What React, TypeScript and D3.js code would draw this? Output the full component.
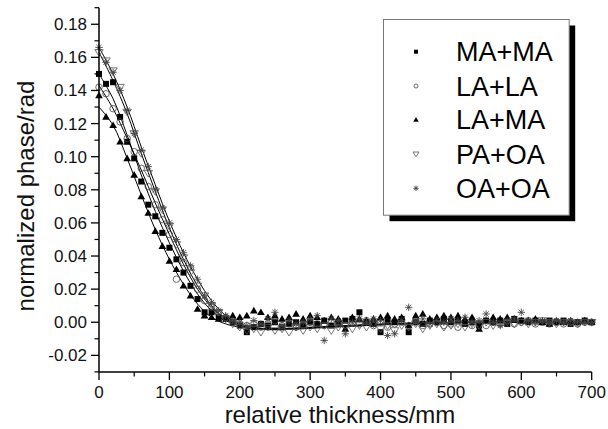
import React from "react";
import * as d3 from "d3";

const thickness = [0,10,20,30,40,50,60,70,80,90,100,110,120,130,140,150,160,170,180,190,200,210,220,230,240,250,260,270,280,290,300,310,320,330,340,350,360,370,380,390,400,410,420,430,440,450,460,470,480,490,500,510,520,530,540,550,560,570,580,590,600,610,620,630,640,650,660,670,680,690,700];

const maMa = [0.150,0.144,0.145,0.124,0.109,0.099,0.085,0.071,0.064,0.054,0.045,0.038,0.030,0.022,0.014,0.006,0.006,0.003,0.002,0.000,-0.002,-0.006,-0.003,-0.001,-0.002,0.000,-0.003,-0.001,0.000,-0.002,0.000,-0.001,0.001,-0.002,0.000,0.001,0.002,0.006,0.000,-0.001,-0.006,0.001,0.000,0.002,-0.006,0.000,-0.001,0.001,0.000,0.002,0.000,0.001,-0.001,0.000,-0.002,0.001,0.000,0.001,-0.001,0.002,0.001,0.000,0.001,0.000,0.001,0.000,0.001,-0.001,0.000,0.001,0.000];
const laLa = [0.142,0.138,0.129,0.121,0.111,0.103,0.093,0.082,0.071,0.062,0.053,0.026,0.036,0.033,0.020,0.013,0.009,0.006,0.003,0.001,-0.001,-0.002,-0.001,-0.003,-0.001,0.001,-0.002,-0.001,-0.003,-0.002,0.000,-0.001,-0.002,0.000,-0.001,-0.002,0.000,-0.001,0.001,-0.002,0.000,-0.003,-0.001,0.000,-0.002,0.001,-0.002,-0.001,0.000,-0.002,-0.001,-0.003,0.000,-0.002,-0.001,-0.002,0.000,-0.001,0.001,-0.001,0.000,0.001,-0.001,0.000,-0.001,0.000,-0.001,0.000,-0.001,0.000,0.000];
const laMa = [0.137,0.124,0.119,0.109,0.099,0.089,0.076,0.066,0.055,0.046,0.037,0.032,0.022,0.016,0.008,0.004,0.003,0.002,0.003,0.004,0.003,0.004,0.007,0.006,0.003,0.004,0.002,0.003,0.005,0.002,0.004,0.003,0.001,0.003,0.002,-0.004,0.003,0.002,0.001,0.002,0.003,0.004,0.002,0.003,-0.002,0.004,0.005,0.002,0.003,0.004,0.003,0.004,0.002,0.003,-0.004,0.001,0.003,0.002,0.003,0.002,0.001,0.001,0.002,0.000,-0.001,0.001,0.000,0.001,0.000,0.001,0.000];
const paOa = [0.163,0.158,0.152,0.142,0.127,0.114,0.102,0.090,0.079,0.068,0.058,0.047,0.039,0.030,0.022,0.016,0.010,0.006,0.002,-0.001,-0.003,-0.005,-0.004,-0.006,-0.003,-0.005,-0.004,-0.006,-0.003,-0.005,-0.003,-0.004,-0.002,-0.005,-0.003,-0.002,-0.004,-0.002,-0.003,-0.001,-0.004,-0.002,-0.005,-0.002,-0.003,-0.001,-0.004,-0.002,-0.001,-0.003,-0.002,-0.001,-0.003,-0.001,-0.002,0.000,-0.002,-0.001,0.000,-0.001,0.000,-0.001,0.000,0.001,0.000,-0.001,0.000,0.000,-0.001,0.000,0.000];
const oaOa = [0.166,0.157,0.151,0.140,0.128,0.114,0.104,0.094,0.080,0.069,0.060,0.050,0.042,0.034,0.026,0.016,0.012,0.007,0.004,0.001,0.000,-0.002,0.001,-0.001,0.002,0.006,-0.002,0.001,-0.001,0.000,0.002,0.004,-0.011,0.002,0.001,-0.007,0.000,0.002,0.000,0.002,0.001,-0.008,-0.007,0.001,0.009,0.000,0.002,-0.001,0.001,0.000,0.002,0.001,0.003,0.000,0.001,0.005,0.000,-0.002,0.001,0.002,0.006,0.001,0.000,0.001,0.000,0.001,0.000,0.001,0.000,0.000,0.000];

const fitX = [0,20,40,60,80,100,120,140,160,180,200,220,240,260,280,300,350,400,450,500,550,600,650,700];
const fitMaMa = [0.150,0.135,0.113,0.089,0.067,0.048,0.031,0.017,0.007,0.001,-0.002,-0.0035,-0.004,-0.004,-0.0037,-0.0033,-0.0023,-0.0013,-0.0006,-0.0002,0.0000,0.0000,0.0000,0.0000];
const fitLaLa = [0.143,0.129,0.111,0.092,0.072,0.053,0.035,0.020,0.009,0.002,-0.002,-0.0035,-0.004,-0.004,-0.0037,-0.0033,-0.0023,-0.0013,-0.0006,-0.0002,0.0000,0.0000,0.0000,0.0000];
const fitLaMa = [0.130,0.119,0.099,0.077,0.056,0.038,0.023,0.011,0.003,-0.001,-0.003,-0.004,-0.004,-0.0038,-0.0035,-0.003,-0.002,-0.0011,-0.0005,-0.0001,0.0000,0.0000,0.0000,0.0000];
const fitPaOa = [0.163,0.146,0.126,0.102,0.079,0.057,0.038,0.022,0.010,0.002,-0.002,-0.004,-0.0045,-0.0045,-0.0042,-0.0037,-0.0026,-0.0016,-0.0009,-0.0004,-0.0001,0.0000,0.0000,0.0000];
const fitOaOa = [0.166,0.150,0.130,0.106,0.083,0.061,0.042,0.026,0.013,0.004,-0.001,-0.003,-0.004,-0.004,-0.0038,-0.0034,-0.0024,-0.0014,-0.0007,-0.0002,0.0000,0.0001,0.0001,0.0001];

const seriesNames = ["MA+MA", "LA+LA", "LA+MA", "PA+OA", "OA+OA"];
const xTicks = [0,100,200,300,400,500,600,700];
const xMinor = [50,150,250,350,450,550,650];
const yTicks = [-0.02,0,0.02,0.04,0.06,0.08,0.10,0.12,0.14,0.16,0.18];
const yMinor = [-0.03,-0.01,0.01,0.03,0.05,0.07,0.09,0.11,0.13,0.15,0.17,0.19];

type Kind = "square" | "circle" | "triUp" | "triDown" | "star";
const kinds: Kind[] = ["square", "circle", "triUp", "triDown", "star"];
const values = [maMa, laLa, laMa, paOa, oaOa];
const fits = [fitMaMa, fitLaLa, fitLaMa, fitPaOa, fitOaOa];

function Marker({ kind, x, y, s }: { kind: Kind; x: number; y: number; s: number }) {
  const h = s / 2;
  if (kind === "square") return <rect x={x - h} y={y - h} width={s} height={s} fill="#000" />;
  if (kind === "circle") return <circle cx={x} cy={y} r={h} fill="none" stroke="#444" strokeWidth={0.8} />;
  if (kind === "triUp")
    return <path d={`M${x},${y - h * 1.1}L${x + h * 1.1},${y + h * 0.8}L${x - h * 1.1},${y + h * 0.8}Z`} fill="#000" />;
  if (kind === "triDown")
    return <path d={`M${x - h * 1.2},${y - h * 0.8}L${x + h * 1.2},${y - h * 0.8}L${x},${y + h * 1.1}Z`} fill="none" stroke="#555" strokeWidth={0.8} />;
  const r = h * 1.05;
  const d = r * 0.707;
  return (
    <path
      d={`M${x - r},${y}L${x + r},${y}M${x},${y - r}L${x},${y + r}M${x - d},${y - d}L${x + d},${y + d}M${x - d},${y + d}L${x + d},${y - d}`}
      stroke="#444"
      strokeWidth={0.9}
      fill="none"
    />
  );
}

export default function App() {
  const W = 608, H = 429;
  const x = d3.scaleLinear().domain([0, 700]).range([99, 591.7]);
  const y = d3.scaleLinear().domain([-0.03, 0.19]).range([371.9, 7.7]);
  const line = d3
    .line<[number, number]>()
    .x((d) => x(d[0]))
    .y((d) => y(d[1]))
    .curve(d3.curveCatmullRom.alpha(0.5));
  const font = "'Liberation Sans', Arial, sans-serif";
  const legendRows = [51.7, 86, 119.8, 154, 188.3];
  const markerSizes = [6, 6.5, 7, 7, 7];
  const legendSizes = [4, 4, 5, 5, 5];

  return (
    <svg width={W} height={H} style={{ position: "absolute", left: 0, top: 0, background: "#fff" }} fontFamily={font}>
      <rect x={0} y={0} width={W} height={H} fill="#fff" />
      {/* fitted curves */}
      {fits.map((f, i) => (
        <path key={"f" + i} d={line(fitX.map((v, j) => [v, f[j]] as [number, number])) || ""} fill="none" stroke="#000" strokeWidth={1} />
      ))}
      {/* points */}
      {values.map((vals, i) => (
        <g key={"s" + i}>
          {vals.map((v, j) => (
            <Marker key={j} kind={kinds[i]} x={x(thickness[j])} y={y(v)} s={markerSizes[i]} />
          ))}
        </g>
      ))}
      {/* axes */}
      <line x1={x(0)} x2={x(0)} y1={y(-0.03)} y2={y(0.19)} stroke="#000" strokeWidth={1.5} />
      <line x1={x(0)} x2={x(700)} y1={y(-0.03)} y2={y(-0.03)} stroke="#000" strokeWidth={1.5} />
      {yTicks.map((t) => (
        <g key={"yt" + t}>
          <line x1={x(0) - 8} x2={x(0)} y1={y(t)} y2={y(t)} stroke="#000" strokeWidth={1.3} />
          <text x={87} y={y(t) + 6} textAnchor="end" fontSize={17} fill="#111">
            {t.toFixed(2)}
          </text>
        </g>
      ))}
      {yMinor.map((t) => (
        <line key={"ym" + t} x1={x(0) - 4.5} x2={x(0)} y1={y(t)} y2={y(t)} stroke="#000" strokeWidth={1.2} />
      ))}
      {xTicks.map((t) => (
        <g key={"xt" + t}>
          <line x1={x(t)} x2={x(t)} y1={y(-0.03)} y2={y(-0.03) + 8} stroke="#000" strokeWidth={1.3} />
          <text x={x(t)} y={397.5} textAnchor="middle" fontSize={17} fill="#111">
            {t}
          </text>
        </g>
      ))}
      {xMinor.map((t) => (
        <line key={"xm" + t} x1={x(t)} x2={x(t)} y1={y(-0.03)} y2={y(-0.03) + 4.5} stroke="#000" strokeWidth={1.2} />
      ))}
      <text x={340} y={422.5} textAnchor="middle" fontSize={24} fill="#111">
        relative thickness/mm
      </text>
      <text transform={`translate(33.5,196) rotate(-90)`} textAnchor="middle" fontSize={24} fill="#111">
        normalized phase/rad
      </text>
      {/* legend */}
      <rect x={389.5} y={25.5} width={185.7} height={195.7} fill="#000" />
      <rect x={383.5} y={19.5} width={185.7} height={195.7} fill="#fff" stroke="#777" strokeWidth={1} />
      {seriesNames.map((n, i) => (
        <g key={"l" + i}>
          <Marker kind={kinds[i]} x={416} y={legendRows[i]} s={legendSizes[i]} />
          <text x={456} y={legendRows[i] + 9.5} fontSize={27} fill="#000">
            {n}
          </text>
        </g>
      ))}
    </svg>
  );
}
